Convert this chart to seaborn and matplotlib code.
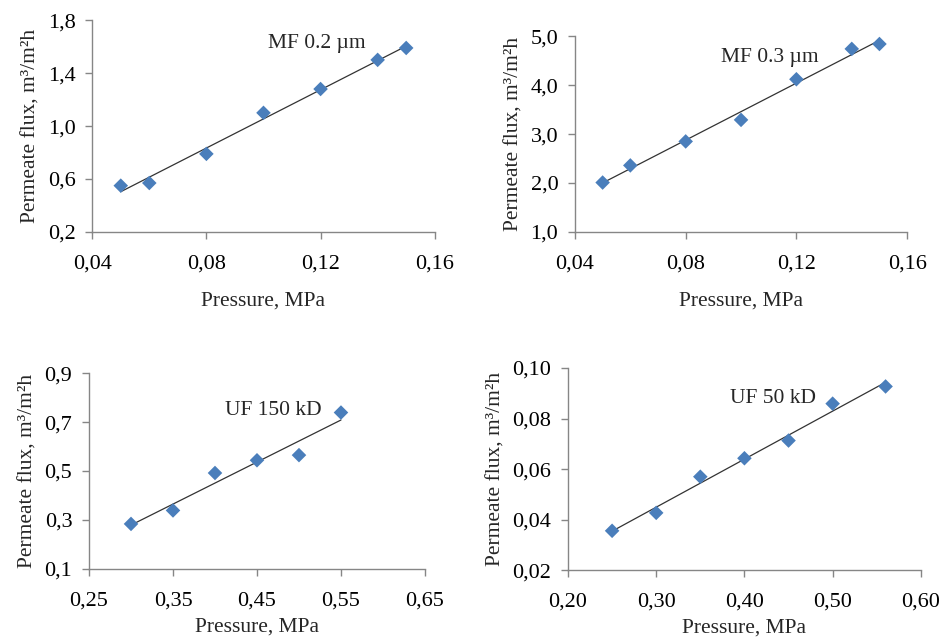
import numpy as np
import pandas as pd
import matplotlib
matplotlib.use('Agg')
import matplotlib.pyplot as plt
import seaborn as sns
from matplotlib.ticker import FuncFormatter

# данные, считанные с графиков
# MF 0.2 um
p_mf02 = [0.05, 0.06, 0.08, 0.10, 0.12, 0.14, 0.15]
j_mf02 = [0.55, 0.57, 0.79, 1.10, 1.28, 1.50, 1.59]
# MF 0.3 um
p_mf03 = [0.05, 0.06, 0.08, 0.10, 0.12, 0.14, 0.15]
j_mf03 = [2.01, 2.36, 2.85, 3.29, 4.12, 4.74, 4.84]
# UF 150 kD
p_uf150 = [0.30, 0.35, 0.40, 0.45, 0.50, 0.55]
j_uf150 = [0.284, 0.339, 0.492, 0.544, 0.565, 0.739]
# UF 50 kD
p_uf50 = [0.25, 0.30, 0.35, 0.40, 0.45, 0.50, 0.56]
j_uf50 = [0.0356, 0.0427, 0.0570, 0.0643, 0.0713, 0.0859, 0.0927]

labels = ['MF 0.2 µm', 'MF 0.3 µm', 'UF 150 kD', 'UF 50 kD']

# деления осей
xt_mf = [0.04, 0.08, 0.12, 0.16]
yt_mf02 = [0.2, 0.6, 1.0, 1.4, 1.8]
yt_mf03 = [1.0, 2.0, 3.0, 4.0, 5.0]
xt_uf150 = [0.25, 0.35, 0.45, 0.55, 0.65]
yt_uf150 = [0.1, 0.3, 0.5, 0.7, 0.9]
xt_uf50 = [0.20, 0.30, 0.40, 0.50, 0.60]
yt_uf50 = [0.02, 0.04, 0.06, 0.08, 0.10]

sns.set_style('ticks')
plt.rcParams['font.family'] = ['Liberation Serif', 'DejaVu Serif']
plt.rcParams['font.size'] = 15

AXCOL = '#868686'
PTCOL = '#4A7EBB'


def comma_fmt(nd):
    return FuncFormatter(lambda v, pos: ('{:.%df}' % nd).format(v).replace('.', ','))


def panel(fig, rect, x, y, name, xt, xnd, yt, ynd, txt_xy, xlabelpad):
    ax = fig.add_axes(rect)
    df = pd.DataFrame({'p': x, 'j': y})
    sns.regplot(data=df, x='p', y='j', ax=ax, ci=None, marker='D',
                scatter_kws={'s': 55, 'color': PTCOL, 'alpha': 1, 'edgecolor': 'none', 'zorder': 3},
                line_kws={'color': '#333333', 'lw': 0.9, 'zorder': 2})
    ax.set_xlim(xt[0], xt[-1])
    ax.set_ylim(yt[0], yt[-1])
    ax.set_xticks(xt)
    ax.set_yticks(yt)
    ax.xaxis.set_major_formatter(comma_fmt(xnd))
    ax.yaxis.set_major_formatter(comma_fmt(ynd))
    sns.despine(ax=ax)
    for s in ['left', 'bottom']:
        ax.spines[s].set_color(AXCOL)
        ax.spines[s].set_linewidth(1)
    ax.tick_params(axis='both', colors=AXCOL, labelcolor='black', length=5, width=1, labelsize=16)
    ax.tick_params(axis='x', pad=11)
    ax.tick_params(axis='y', pad=7)
    ax.set_xlabel('Pressure, MPa', fontsize=15.5, labelpad=xlabelpad)
    ax.set_ylabel('Permeate flux, m³/m²h', fontsize=15.5, labelpad=5)
    ax.text(txt_xy[0], txt_xy[1], name, fontsize=15.5, va='center', ha='left')
    return ax


fig = plt.figure(figsize=(9.41, 6.4), dpi=100)

panel(fig, [0.098, 0.6375, 0.364, 0.331], p_mf02, j_mf02, labels[0],
      xt_mf, 2, yt_mf02, 1, (0.1016, 1.62), 13)
panel(fig, [0.611, 0.6375, 0.353, 0.306], p_mf03, j_mf03, labels[1],
      xt_mf, 2, yt_mf03, 1, (0.0928, 4.57), 13)
panel(fig, [0.0946, 0.111, 0.357, 0.306], p_uf150, j_uf150, labels[2],
      xt_uf150, 2, yt_uf150, 1, (0.412, 0.749), 5)
panel(fig, [0.6036, 0.109, 0.375, 0.316], p_uf50, j_uf50, labels[3],
      xt_uf50, 2, yt_uf50, 2, (0.384, 0.088), 5)

plt.savefig('out.png', dpi=100)
